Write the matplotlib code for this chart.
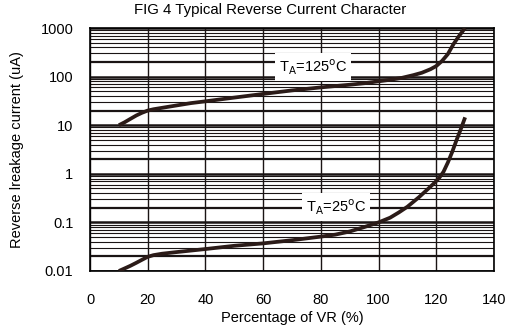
import numpy as np
import matplotlib.pyplot as plt

plt.rcParams['font.family'] = ['Liberation Sans', 'DejaVu Sans']

# values (x in % of VR, current in uA)
x_125 = [10, 12, 14, 16, 18, 20, 22, 25, 30, 35, 40, 50, 60, 70, 80, 90, 95, 100,
         104, 108, 112, 115, 118, 120, 122, 124, 126, 128, 130]
i_125 = [10, 11.5, 13.5, 15.8, 18, 20, 21.3, 22.8, 25.5, 28.5, 31, 37, 44, 52, 60, 68, 73, 80,
         86, 94, 107, 120, 142, 165, 210, 290, 470, 700, 1000]

x_25 = [10, 12, 14, 16, 18, 20, 22, 25, 30, 40, 50, 60, 70, 80, 85, 90, 95, 100,
        104, 107, 110, 114, 117, 119, 121, 122.5, 124, 125.5, 127, 128.5, 130]
i_25 = [0.01, 0.0113, 0.0128, 0.0147, 0.017, 0.0196, 0.0212, 0.0227, 0.0245, 0.0283, 0.033, 0.037,
        0.043, 0.051, 0.056, 0.065, 0.08, 0.10,
        0.125, 0.16, 0.21, 0.33, 0.48, 0.62, 0.82, 1.1, 1.7, 2.8, 4.9, 8.3, 14.5]

xticks = [0, 20, 40, 60, 80, 100, 120, 140]
yticks = [0.01, 0.1, 1, 10, 100, 1000]
ytick_labels = ['0.01', '0.1', '1', '10', '100', '1000']

fig = plt.figure(figsize=(5.1, 3.33), dpi=100)
ax = fig.add_axes([0.1765, 0.1862, 0.7921, 0.7297])
ax.set_yscale('log')
ax.set_xlim(0, 140)
ax.set_ylim(0.01, 1000)

# grid: thick decade and 2x lines, thin others
for dec in [0.01, 0.1, 1, 10, 100]:
    for m in range(2, 10):
        lw = 1.6 if m == 2 else 0.8
        ax.axhline(dec * m, color='#1a1414', lw=lw, zorder=1)
for v in yticks:
    ax.axhline(v, color='#1a1414', lw=1.8, zorder=1)
for v in xticks:
    ax.axvline(v, color='#1a1414', lw=1.0, zorder=1)

ax.plot(x_125, i_125, color='#2b1b18', lw=2.7, solid_capstyle='butt', solid_joinstyle='round', zorder=3)
ax.plot(x_25, i_25, color='#2b1b18', lw=2.7, solid_capstyle='butt', solid_joinstyle='round', zorder=3)

ax.text(77.3, 158, r'T$_{\mathsf{A}}$=125$^{\mathsf{o}}$C', fontsize=10.5, ha='center', va='center',
        bbox=dict(facecolor='white', edgecolor='none', pad=3), zorder=4)
ax.text(85.2, 0.207, r'T$_{\mathsf{A}}$=25$^{\mathsf{o}}$C', fontsize=10.5, ha='center', va='center',
        bbox=dict(facecolor='white', edgecolor='none', pad=3), zorder=4)

ax.set_xticks(xticks)
ax.set_yticks(yticks)
ax.set_yticklabels(ytick_labels)
ax.minorticks_off()
ax.tick_params(length=0, labelsize=10.5)
ax.tick_params(axis='y', pad=12)
ax.tick_params(axis='x', pad=16)
for s in ax.spines.values():
    s.set_linewidth(1.2)

ax.set_xlabel('Percentage of VR (%)', fontsize=10.5, labelpad=3)
ax.set_ylabel('Reverse lreakage current (uA)', fontsize=10.5, labelpad=12)
fig.text(0.529, 0.97, 'FIG 4 Typical Reverse Current Character', fontsize=10.8,
         ha='center', va='center')

fig.savefig('out.png', dpi=100)
